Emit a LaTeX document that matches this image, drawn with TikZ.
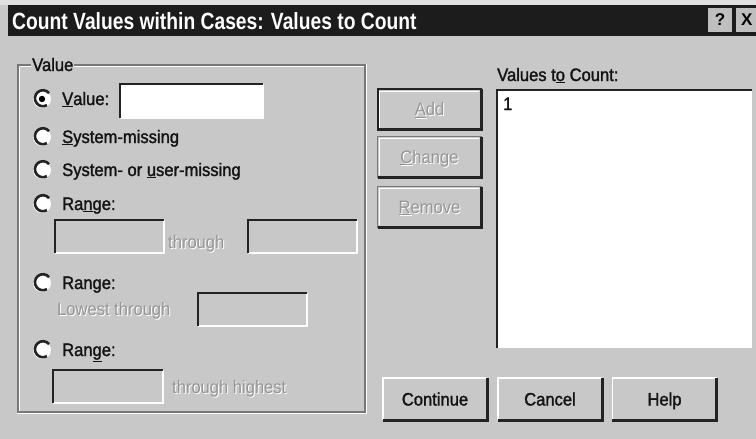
\documentclass[tikz,border=0pt]{standalone}
\usepackage{fontspec}
\setmainfont{Liberation Sans}
\newfontfamily\dlgfont{Liberation Sans}[FakeStretch=0.92,FakeBold=1.6]
\newfontfamily\disfont{Liberation Sans}[FakeStretch=0.92]
\newfontfamily\ttlfont{Liberation Sans}[FakeStretch=0.82]
\definecolor{dlggray}{RGB}{200,200,200}
\definecolor{barcol}{RGB}{28,28,28}
\definecolor{distext}{RGB}{150,150,150}
\definecolor{darkedge}{RGB}{35,35,35}
\definecolor{etch}{RGB}{120,120,120}
\tikzset{
  txt/.style={anchor=base west, inner sep=0pt, text=black!92, font=\dlgfont\fontsize{18}{20}\selectfont},
  distxt/.style={txt, text=distext, font=\disfont\fontsize{18}{20}\selectfont},
  disshadow/.style={distxt, text=white},
  btntxt/.style={anchor=base, inner sep=0pt, text=black!92, font=\dlgfont\fontsize{18}{20}\selectfont},
  disbtn/.style={btntxt, text=distext, font=\disfont\fontsize{18}{20}\selectfont},
  radiobtn/.style={circle, minimum size=18pt, inner sep=0pt, fill=white},
  radioarc/.style={line width=2.6pt, darkedge},
  fieldbox/.style={rectangle, inner sep=0pt, fill=dlggray},
  sunkdark/.style={line width=2.6pt, darkedge},
  sunklight/.style={line width=1.6pt, white},
  btnbox/.style={rectangle, inner sep=0pt, fill=dlggray},
}
\begin{document}
\begin{tikzpicture}[x=1pt,y=-1pt]
\useasboundingbox (0,0) rectangle (756,439);
% window background
\fill[dlggray] (0,0) rectangle (756,439);
\fill[black!12] (0,0) rectangle (756,5);
% title bar
\fill[barcol] (8,5) rectangle (756,36);
\node[anchor=base west, inner sep=0pt, text=white, font=\ttlfont\bfseries\fontsize{23.5}{26}\selectfont] (title) at (12,30) {Count Values within Cases: Values to Count};
\node[rectangle, minimum width=24pt, minimum height=24pt, fill=black!25, inner sep=0pt, font=\bfseries\fontsize{17}{18}\selectfont] (helpq) at (720,20) {?};
\node[rectangle, minimum width=21pt, minimum height=24pt, fill=black!25, inner sep=0pt, font=\bfseries\fontsize{17}{18}\selectfont, anchor=west] (closex) at (736,20) {X};

% group frame
\draw[etch, line width=1.2pt] (18,65) rectangle (365,412);
\draw[white, line width=1.2pt] (19.5,66.5) -- (363.5,66.5) (19.5,66.5) -- (19.5,410.5);
\draw[white, line width=1.2pt] (366.5,64) -- (366.5,413.5) -- (17,413.5);
\node[txt, fill=dlggray, inner xsep=1pt] (grp) at (31,71) {Value};

% radio buttons
\foreach \n/\yy in {r1/99, r2/137, r3/170, r4/204, r5/283, r6/350}{
  \node[radiobtn] (\n) at (42,\yy) {};
  \draw[radioarc] (\n.40) arc[start angle=40, end angle=300, radius=8pt];
}
\fill[black] (r1) circle (3.2pt);

% radio labels
\node[txt] (l1) at (62,105) {\underline{V}alue:};
\node[txt] (l2) at (62,143) {\underline{S}ystem-missing};
\node[txt] (l3) at (62,176) {System- or \underline{u}ser-missing};
\node[txt] (l4) at (62,210) {Ra\underline{n}ge:};
\node[txt] (l5) at (62,289) {Range:};
\node[txt] (l6) at (62,356) {Ran\underline{g}e:};

% value field (white)
\node[fieldbox, fill=white, minimum width=143pt, minimum height=34pt] (fval) at (191.5,101) {};
% range boxes (disabled)
\node[fieldbox, minimum width=109pt, minimum height=33pt] (fr1a) at (109.5,236.5) {};
\node[fieldbox, minimum width=109pt, minimum height=33pt] (fr1b) at (302.5,236.5) {};
\node[fieldbox, minimum width=109pt, minimum height=33pt] (fr2) at (252.5,309.5) {};
\node[fieldbox, minimum width=110pt, minimum height=33pt] (fr3) at (108,386.5) {};
\foreach \f in {fval,fr1a,fr1b,fr2,fr3}{
  \draw[sunklight] (\f.south west) -- (\f.south east) -- (\f.north east);
  \draw[sunkdark] (\f.south west) -- (\f.north west) -- (\f.north east);
}

% disabled labels
\node[disshadow] (th1s) at (169,249) {through};
\node[distxt] (th1) at (168,248) {through};
\node[disshadow] (lows) at (58,316) {Lowest through};
\node[distxt] (low) at (57,315) {Lowest through};
\node[disshadow] (ths3s) at (173,394) {through highest};
\node[distxt] (th3) at (172,393) {through highest};

% Add / Change / Remove buttons
\foreach \b/\yy in {badd/109.5, bchg/157, brem/207}{
  \node[btnbox, minimum width=103pt, minimum height=40pt] (\b) at (429.5,\yy) {};
  \draw[etch, line width=1.2pt] (\b.south west) rectangle (\b.north east);
  \draw[white, line width=1.2pt] ([shift={(2,-2)}]\b.south west) -- ([shift={(2,2)}]\b.north west) -- ([shift={(-2,2)}]\b.north east);
  \draw[darkedge, line width=2.8pt] (\b.south west) -- (\b.south east) -- (\b.north east);
}
\draw[darkedge, line width=2pt] (badd.south west) rectangle (badd.north east);
\draw[darkedge, line width=3pt] (badd.south west) -- (badd.south east) -- (badd.north east);
\node[disbtn, text=white] (taddS) at ([shift={(1,7)}]badd.center) {\underline{A}dd};
\node[disbtn] (tadd) at ([shift={(0,6)}]badd.center) {\underline{A}dd};
\node[disbtn, text=white] (tchgS) at ([shift={(1,7)}]bchg.center) {\underline{C}hange};
\node[disbtn] (tchg) at ([shift={(0,6)}]bchg.center) {\underline{C}hange};
\node[disbtn, text=white] (tremS) at ([shift={(1,7)}]brem.center) {\underline{R}emove};
\node[disbtn] (trem) at ([shift={(0,6)}]brem.center) {\underline{R}emove};

% Values to Count list
\node[txt] (vlab) at (497,81) {Values t\underline{o} Count:};
\node[rectangle, inner sep=0pt, fill=white, minimum width=255pt, minimum height=258pt] (list) at (624.5,219) {};
\draw[sunkdark] (list.south west) -- (list.north west) -- (list.north east);
\node[txt] (one) at (503,110) {1};

% bottom buttons
\foreach \b/\xx/\t in {bcont/435/Continue, bcanc/550/Cancel, bhelp/664.5/Help}{
  \node[btnbox, minimum width=104pt, minimum height=42pt] (\b) at (\xx,399) {};
  \draw[white, line width=1.5pt] (\b.south west) -- (\b.north west) -- (\b.north east);
  \draw[darkedge, line width=3pt] (\b.south west) -- (\b.south east) -- (\b.north east);
  \node[btntxt] (\b t) at ([shift={(0,6.5)}]\b.center) {\t};
}
\end{tikzpicture}
\end{document}
